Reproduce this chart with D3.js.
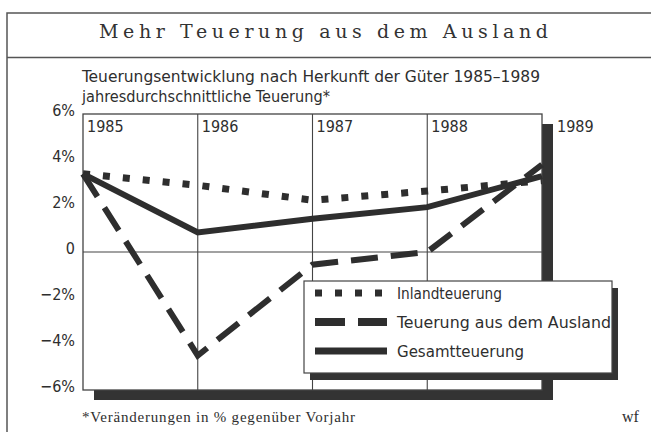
<!DOCTYPE html>
<html>
<head>
<meta charset="utf-8">
<script src="https://cdn.jsdelivr.net/npm/d3@7"></script>
<style>
  html, body { margin: 0; padding: 0; background: #fff; }
  body { width: 651px; height: 432px; overflow: hidden; }
</style>
</head>
<body>
<script>
// data
const years = [1985, 1986, 1987, 1988, 1989]
const inland = [3.4, 2.9, 2.25, 2.65, 3.1]
const ausland = [3.4, -4.5, -0.55, 0.0, 3.8]
const gesamt = [3.4, 0.85, 1.45, 1.95, 3.3]
const yTicks = [6, 4, 2, 0, -2, -4, -6]
const yTickLabels = ['6%', '4%', '2%', '0', '\u22122%', '\u22124%', '\u22126%']
const seriesNames = ['Inlandteuerung', 'Teuerung aus dem Ausland', 'Gesamtteuerung']

const width = 651, height = 432
const ink = '#2e2e2e'
const narrow = '"Liberation Sans Narrow", "DejaVu Sans Condensed", "Roboto", sans-serif'
const serif = '"Liberation Serif", "DejaVu Serif", serif'
const titleFont = '"DejaVu Serif", "Liberation Serif", serif'

let svg = d3.select('body').append('svg')
    .attr('width', width)
    .attr('height', height)

// outer frame + title band
svg.append('path')
    .attr('d', `M7,${height} V13 H${width}`)
    .attr('fill', 'none').attr('stroke', '#555').attr('stroke-width', 1.5)
svg.append('line')
    .attr('x1', 7).attr('x2', width).attr('y1', 57.5).attr('y2', 57.5)
    .attr('stroke', '#555').attr('stroke-width', 1.5)

svg.append('text')
    .attr('x', 99).attr('y', 38)
    .attr('textLength', 449).attr('lengthAdjust', 'spacing')
    .style('font-family', titleFont).style('font-size', '19px').attr('fill', '#333')
    .text('Mehr Teuerung aus dem Ausland')

svg.append('text')
    .attr('x', 82).attr('y', 82)
    .attr('textLength', 458).attr('lengthAdjust', 'spacingAndGlyphs')
    .style('font-family', narrow).style('font-size', '15px').attr('fill', ink)
    .text('Teuerungsentwicklung nach Herkunft der Güter 1985\u20131989')
svg.append('text')
    .attr('x', 82).attr('y', 102)
    .attr('textLength', 248).attr('lengthAdjust', 'spacingAndGlyphs')
    .style('font-family', narrow).style('font-size', '15px').attr('fill', ink)
    .text('jahresdurchschnittliche Teuerung*')

// plot area
const plot = {left: 83, right: 542, top: 114, bottom: 390}
let x = d3.scaleLinear().domain(d3.extent(years)).range([plot.left, plot.right])
let y = d3.scaleLinear().domain([-6, 6]).range([plot.bottom, plot.top])

// shadow of the plot frame
svg.append('rect')
    .attr('x', plot.left + 11).attr('y', plot.top + 10)
    .attr('width', plot.right - plot.left).attr('height', plot.bottom - plot.top)
    .attr('fill', '#333')
svg.append('rect')
    .attr('x', plot.left).attr('y', plot.top)
    .attr('width', plot.right - plot.left).attr('height', plot.bottom - plot.top)
    .attr('fill', '#fff').attr('stroke', '#444').attr('stroke-width', 1.3)

// grid
svg.append('g').selectAll('line').data(years.slice(1, -1)).join('line')
    .attr('x1', d => x(d)).attr('x2', d => x(d))
    .attr('y1', plot.top).attr('y2', plot.bottom)
    .attr('stroke', '#444').attr('stroke-width', 1.1)
svg.append('line')
    .attr('x1', plot.left).attr('x2', plot.right)
    .attr('y1', y(0)).attr('y2', y(0))
    .attr('stroke', '#444').attr('stroke-width', 1.1)

// y axis
let yAxis = svg.append('g')
    .attr('transform', `translate(${plot.left - 8},-4)`)
    .call(d3.axisLeft(y).tickValues(yTicks).tickSize(0).tickPadding(0)
      .tickFormat((d, i) => yTickLabels[i]))
yAxis.select('.domain').remove()
yAxis.selectAll('text')
    .style('font-family', narrow).style('font-size', '16px').attr('fill', ink)

// year labels
svg.append('g').selectAll('text').data(years).join('text')
    .attr('x', d => d === 1989 ? x(d) + 15 : x(d) + 4)
    .attr('y', plot.top + 18)
    .style('font-family', narrow).style('font-size', '16px').attr('fill', ink)
    .text(d => d)

// series lines
const styles = [
  {values: inland, width: 7, dash: '7 13'},
  {values: ausland, width: 6, dash: '27 13'},
  {values: gesamt, width: 6, dash: null}
]
let line = d3.line().x((d, i) => x(years[i])).y(d => y(d))
svg.append('g').selectAll('path').data(styles).join('path')
    .attr('d', d => line(d.values))
    .attr('fill', 'none').attr('stroke', ink)
    .attr('stroke-width', d => d.width)
    .attr('stroke-dasharray', d => d.dash)
    .attr('stroke-linejoin', 'miter')

// legend
const lg = {x: 304, y: 281, w: 308, h: 92}
svg.append('rect')
    .attr('x', lg.x + 6).attr('y', lg.y + 7).attr('width', lg.w).attr('height', lg.h)
    .attr('fill', '#333')
svg.append('rect')
    .attr('x', lg.x).attr('y', lg.y).attr('width', lg.w).attr('height', lg.h)
    .attr('fill', '#fff').attr('stroke', '#444').attr('stroke-width', 1.2)

const legendDash = ['7 13', '30 13', null]
const legendWidths = [7, 8, 7]
const legendTextLen = [105, 214, 127]
let items = svg.append('g').selectAll('g').data(seriesNames).join('g')
    .attr('transform', (d, i) => `translate(${lg.x + 11},${lg.y + 12 + i * 29})`)
items.append('line')
    .attr('x1', 0).attr('x2', 72)
    .attr('stroke', ink)
    .attr('stroke-width', (d, i) => legendWidths[i])
    .attr('stroke-dasharray', (d, i) => legendDash[i])
items.append('text')
    .attr('x', 82).attr('y', 6)
    .attr('textLength', (d, i) => legendTextLen[i]).attr('lengthAdjust', 'spacingAndGlyphs')
    .style('font-family', narrow).style('font-size', '16px').attr('fill', ink)
    .text(d => d)

// footnote
svg.append('text')
    .attr('x', 82).attr('y', 422)
    .attr('textLength', 273).attr('lengthAdjust', 'spacing')
    .style('font-family', serif).style('font-size', '15px').attr('fill', ink)
    .text('*Veränderungen in % gegenüber Vorjahr')
svg.append('text')
    .attr('x', 622).attr('y', 422)
    .style('font-family', serif).style('font-size', '16px').attr('fill', ink)
    .text('wf')
</script>
</body>
</html>
